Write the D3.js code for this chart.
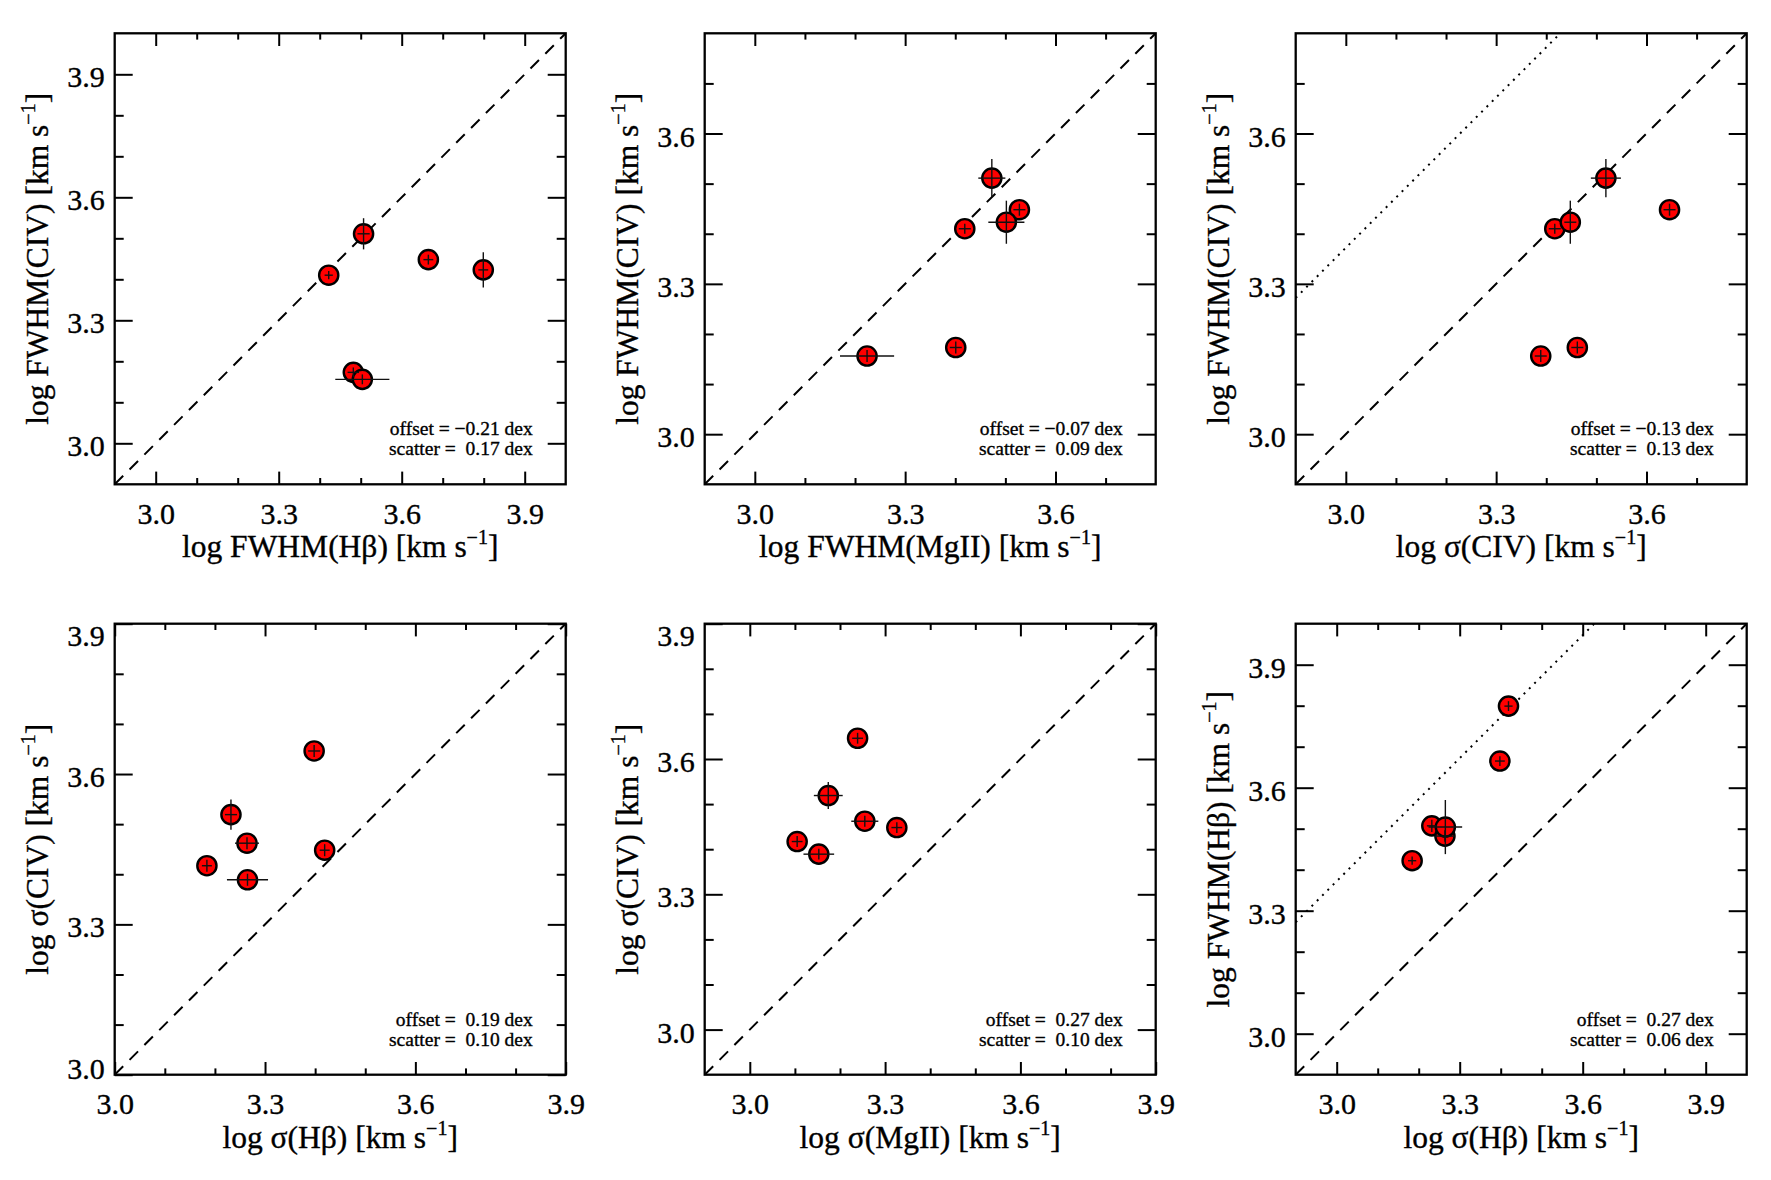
<!DOCTYPE html>
<html>
<head>
<meta charset="utf-8">
<script src="https://cdn.jsdelivr.net/npm/d3@7"></script>
<style>
  body { margin: 0; background: #fff; }
  text { font-family: "Liberation Serif", "Times New Roman", serif; fill: #000; stroke: #000; stroke-width: 0.35px; }
</style>
</head>
<body>
<svg id="fig" width="1771" height="1180"></svg>
<script>
// line widths / velocities for the six objects (log km/s)
var fwhmCIV    = [3.448, 3.511, 3.173, 3.410, 3.156, 3.423];
var fwhmCIVErr = [0.012, 0.038, 0.012, 0.010, 0.012, 0.043];
var fwhmHb     = [3.665, 3.507, 3.482, 3.422, 3.504, 3.799];
var fwhmHbErr  = [0.012, 0.015, 0.014, 0.010, 0.066, 0.012];
var fwhmMg     = [3.528, 3.473, 3.401, 3.419, 3.224, 3.502];
var fwhmMgErr  = [0.012, 0.027, 0.012, 0.012, 0.054, 0.036];
var sigCIV     = [3.646, 3.519, 3.462, 3.417, 3.389, 3.448];
var sigCIVErr  = [0.012, 0.030, 0.012, 0.012, 0.012, 0.012];
var sigHb      = [3.398, 3.232, 3.264, 3.184, 3.265, 3.419];
var sigHbErr   = [0.012, 0.012, 0.024, 0.010, 0.041, 0.010];
var sigMg      = [3.239, 3.174, 3.255, 3.105, 3.153, 3.326];
var sigMgErr   = [0.012, 0.032, 0.030, 0.012, 0.034, 0.012];

var offsets  = ["\u22120.21", "\u22120.07", "\u22120.13", " 0.19", " 0.27", " 0.27"];
var scatters = ["0.17", "0.09", "0.13", "0.10", "0.10", "0.06"];

var fwhmOffset = 0.372; // log(2.355), FWHM = 2.355 sigma

var panels = [
  {x: fwhmHb, xe: fwhmHbErr, y: fwhmCIV, ye: fwhmCIVErr, dom: [2.9, 4.0], xl: "log FWHM(H\u03B2)", yl: "log FWHM(CIV)", dotted: false},
  {x: fwhmMg, xe: fwhmMgErr, y: fwhmCIV, ye: fwhmCIVErr, dom: [2.9, 3.8], xl: "log FWHM(MgII)", yl: "log FWHM(CIV)", dotted: false},
  {x: sigCIV, xe: sigCIVErr, y: fwhmCIV, ye: fwhmCIVErr, dom: [2.9, 3.8], xl: "log \u03C3(CIV)", yl: "log FWHM(CIV)", dotted: true},
  {x: sigHb, xe: sigHbErr, y: sigCIV, ye: sigCIVErr, dom: [3.0, 3.9], xl: "log \u03C3(H\u03B2)", yl: "log \u03C3(CIV)", dotted: false},
  {x: sigMg, xe: sigMgErr, y: sigCIV, ye: sigCIVErr, dom: [2.9, 3.9], xl: "log \u03C3(MgII)", yl: "log \u03C3(CIV)", dotted: false},
  {x: sigHb, xe: sigHbErr, y: fwhmHb, ye: fwhmHbErr, dom: [2.9, 4.0], xl: "log \u03C3(H\u03B2)", yl: "log FWHM(H\u03B2)", dotted: true}
];

var svg = d3.select("#fig");
var size = 451;
var colX = [114.7, 704.7, 1295.7];
var rowY = [33.3, 623.7];

function tickSets(dom) {
  var lo = Math.round(dom[0] * 10), hi = Math.round(dom[1] * 10);
  var all = d3.range(lo, hi + 1).map(function(v) { return v / 10; });
  var major = all.filter(function(v) { return Math.round(v * 10) % 3 === 0; });
  var minor = all.filter(function(v) { return Math.round(v * 10) % 3 !== 0 && v > dom[0] + 1e-6 && v < dom[1] - 1e-6; });
  return {major: major, minor: minor};
}

function addTitle(g, label, x, y, rotate) {
  var t = g.append("text")
    .attr("text-anchor", "middle")
    .attr("font-size", 31.5)
    .attr("transform", "translate(" + x + "," + y + ")" + (rotate ? " rotate(-90)" : ""));
  t.append("tspan").text(label + " [km s");
  t.append("tspan").attr("font-size", 20).attr("dy", -13).text("\u22121");
  t.append("tspan").attr("font-size", 31.5).attr("dy", 13).text("]");
}

panels.forEach(function(p, i) {
  var left = colX[i % 3], top = rowY[Math.floor(i / 3)];
  var g = svg.append("g").attr("transform", "translate(" + left + "," + top + ")");

  var x = d3.scaleLinear().domain(p.dom).range([0, size]);
  var y = d3.scaleLinear().domain(p.dom).range([size, 0]);
  var ts = tickSets(p.dom);
  var fmt = d3.format(".1f");

  g.append("clipPath").attr("id", "clip" + i)
    .append("rect").attr("width", size).attr("height", size);

  // reference lines
  var lineGen = d3.line().x(function(d) { return x(d[0]); }).y(function(d) { return y(d[1]); });
  var plot = g.append("g").attr("clip-path", "url(#clip" + i + ")");
  plot.append("path")
    .attr("d", lineGen([[p.dom[0], p.dom[0]], [p.dom[1], p.dom[1]]]))
    .attr("fill", "none").attr("stroke", "#000").attr("stroke-width", 2)
    .attr("stroke-dasharray", "12,9");
  if (p.dotted) {
    plot.append("path")
      .attr("d", lineGen([[p.dom[0], p.dom[0] + fwhmOffset], [p.dom[1], p.dom[1] + fwhmOffset]]))
      .attr("fill", "none").attr("stroke", "#000").attr("stroke-width", 2)
      .attr("stroke-dasharray", "2,5.5");
  }

  // axes: major + minor ticks on all four sides, pointing inward
  function styleAxis(a) { a.select(".domain").remove(); a.selectAll("line").attr("stroke", "#000").attr("stroke-width", 2); }
  var bx = g.append("g").attr("transform", "translate(0," + size + ")")
    .call(d3.axisBottom(x).tickValues(ts.major).tickSize(-12.7).tickPadding(18).tickFormat(fmt));
  styleAxis(bx);
  bx.selectAll("text").attr("font-size", 30);
  styleAxis(g.append("g").attr("transform", "translate(0," + size + ")")
    .call(d3.axisBottom(x).tickValues(ts.minor).tickSize(-6.3).tickFormat("")));
  styleAxis(g.append("g").call(d3.axisTop(x).tickValues(ts.major).tickSize(-12.7).tickFormat("")));
  styleAxis(g.append("g").call(d3.axisTop(x).tickValues(ts.minor).tickSize(-6.3).tickFormat("")));

  var ly = g.append("g")
    .call(d3.axisLeft(y).tickValues(ts.major).tickSize(-18).tickPadding(10).tickFormat(fmt));
  styleAxis(ly);
  // labels at the very ends of the axis are nudged inward
  ly.selectAll("text").attr("font-size", 30)
    .attr("dy", function(d) {
      if (Math.abs(d - p.dom[1]) < 1e-6) return 12.5 + 9;
      if (Math.abs(d - p.dom[0]) < 1e-6) return 12.5 - 9;
      return 12.5;
    });
  styleAxis(g.append("g").call(d3.axisLeft(y).tickValues(ts.minor).tickSize(-9).tickFormat("")));
  styleAxis(g.append("g").attr("transform", "translate(" + size + ",0)")
    .call(d3.axisRight(y).tickValues(ts.major).tickSize(-18).tickFormat("")));
  styleAxis(g.append("g").attr("transform", "translate(" + size + ",0)")
    .call(d3.axisRight(y).tickValues(ts.minor).tickSize(-9).tickFormat("")));

  g.append("rect").attr("width", size).attr("height", size)
    .attr("fill", "none").attr("stroke", "#000").attr("stroke-width", 2.3);

  // points
  var idx = d3.range(p.x.length);
  g.selectAll(".pt").data(idx).enter().append("circle")
    .attr("class", "pt")
    .attr("cx", function(d) { return x(p.x[d]); })
    .attr("cy", function(d) { return y(p.y[d]); })
    .attr("r", 9.6)
    .attr("fill", "#ff0000").attr("stroke", "#000").attr("stroke-width", 2.4);

  g.selectAll(".ex").data(idx).enter().append("line")
    .attr("x1", function(d) { return x(p.x[d] - p.xe[d]); })
    .attr("x2", function(d) { return x(p.x[d] + p.xe[d]); })
    .attr("y1", function(d) { return y(p.y[d]); })
    .attr("y2", function(d) { return y(p.y[d]); })
    .attr("stroke", "#111").attr("stroke-width", 1.4);
  g.selectAll(".ey").data(idx).enter().append("line")
    .attr("x1", function(d) { return x(p.x[d]); })
    .attr("x2", function(d) { return x(p.x[d]); })
    .attr("y1", function(d) { return y(p.y[d] - p.ye[d]); })
    .attr("y2", function(d) { return y(p.y[d] + p.ye[d]); })
    .attr("stroke", "#111").attr("stroke-width", 1.4);

  // offset / scatter note
  g.append("text").attr("x", size - 33).attr("y", size - 49)
    .attr("text-anchor", "end").attr("font-size", 19.5).style("white-space", "pre")
    .text("offset = " + offsets[i] + " dex");
  g.append("text").attr("x", size - 33).attr("y", size - 29)
    .attr("text-anchor", "end").attr("font-size", 19.5).style("white-space", "pre")
    .text("scatter =  " + scatters[i] + " dex");

  addTitle(g, p.xl, size / 2, size + 73, false);
  addTitle(g, p.yl, -67, size / 2, true);
});
</script>
</body>
</html>
